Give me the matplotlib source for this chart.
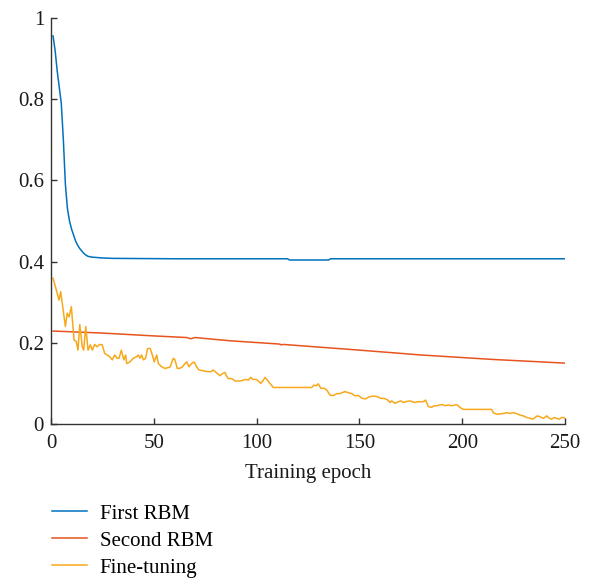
import matplotlib
matplotlib.use("Agg")
from matplotlib import pyplot as plt

# First RBM
rbm1_epoch = [1, 2, 3, 4, 5, 6, 7, 8, 9, 10, 11, 12, 13, 14, 15, 16, 17, 18, 20,
              25, 30, 60, 115, 116, 135, 136, 250]
rbm1_err = [0.956, 0.92, 0.87, 0.83, 0.79, 0.70, 0.59, 0.53, 0.50, 0.48, 0.465,
            0.45, 0.44, 0.432, 0.426, 0.42, 0.416, 0.413, 0.411,
            0.409, 0.408, 0.407, 0.407, 0.404, 0.404, 0.407, 0.407]

# Second RBM
rbm2_epoch = [1, 25, 50, 66, 68, 70, 87, 111, 112, 113, 150, 180, 215, 250]
rbm2_err = [0.229, 0.224, 0.217, 0.213, 0.210, 0.213, 0.205, 0.197, 0.195, 0.196,
            0.182, 0.170, 0.159, 0.150]

# Fine-tuning
ft_epoch = [1, 2.6, 3.9, 4.7, 7.0, 7.9, 8.8, 9.9, 11.2, 12.3, 13.1, 14.0, 15.2,
            15.9, 16.9, 18.0, 19.1, 20.1, 21.2, 22.4, 23.7, 24.9, 26.1, 28.5,
            29.8, 31.0, 32.1, 33.1, 34.2, 35.4, 36.3, 36.8, 38.4, 40.0, 41.7,
            42.5, 43.3, 44.1, 44.9, 46.0, 47.0, 48.2, 49.3, 50.2, 51.4, 52.2,
            53.8, 55.4, 57.9, 59.5, 60.3, 61.4, 62.7, 63.9, 65.2, 66.0, 67.1,
            68.4, 69.6, 70.9, 72.0, 74.1, 76.2, 77.8, 78.9, 80.6, 82.2, 83.3,
            84.6, 85.1, 86.2, 87.9, 89.5, 91.9, 93.5, 94.8, 96.0, 97.1, 98.1,
            99.7, 100.8, 102.0, 103.0, 104.1, 105.2, 106.5, 108.1, 114.6, 121.1,
            126.8, 127.9, 128.9, 130.0, 131.2, 132.8, 134.1, 135.7, 137.3, 139.0,
            140.6, 143.0, 144.6, 146.3, 147.5, 149.5, 151.4, 153.1, 154.7, 156.8,
            158.9, 160.5, 162.1, 163.8, 164.9, 165.7, 167.3, 168.9, 170.2, 171.4,
            172.5, 174.6, 176.7, 178.6, 181.1, 182.2, 183.5, 185.1, 186.4, 187.6,
            189.2, 190.5, 191.6, 193.2, 194.9, 196.5, 197.6, 198.9, 200.5, 203.0,
            208.7, 214.3, 215.1, 216.8, 218.4, 220.0, 221.6, 223.2, 224.9, 226.8,
            228.1, 229.7, 231.4, 233.0, 234.3, 235.4, 236.5, 237.8, 239.5, 241.1,
            242.4, 243.5, 244.7, 246.0, 247.2, 248.4, 249.5, 250]
ft_err = [0.359, 0.330, 0.305, 0.326, 0.240, 0.273, 0.264, 0.289, 0.207, 0.203,
          0.182, 0.245, 0.190, 0.182, 0.240, 0.182, 0.195, 0.182, 0.196, 0.190,
          0.196, 0.195, 0.174, 0.166, 0.158, 0.170, 0.162, 0.162, 0.182, 0.158,
          0.170, 0.149, 0.153, 0.162, 0.166, 0.170, 0.162, 0.170, 0.158, 0.162,
          0.186, 0.186, 0.170, 0.153, 0.170, 0.149, 0.141, 0.137, 0.140, 0.162,
          0.158, 0.137, 0.137, 0.141, 0.149, 0.153, 0.141, 0.149, 0.153, 0.140,
          0.133, 0.131, 0.129, 0.129, 0.133, 0.126, 0.119, 0.124, 0.127, 0.121,
          0.112, 0.112, 0.106, 0.106, 0.108, 0.110, 0.108, 0.115, 0.110, 0.110,
          0.106, 0.100, 0.106, 0.115, 0.108, 0.100, 0.090, 0.090, 0.090, 0.090,
          0.096, 0.094, 0.099, 0.088, 0.088, 0.084, 0.071, 0.070, 0.075, 0.075,
          0.080, 0.077, 0.075, 0.070, 0.070, 0.063, 0.062, 0.067, 0.069, 0.067,
          0.063, 0.063, 0.059, 0.053, 0.057, 0.051, 0.055, 0.057, 0.053, 0.055,
          0.057, 0.053, 0.055, 0.055, 0.059, 0.043, 0.041, 0.045, 0.045, 0.047,
          0.048, 0.045, 0.047, 0.045, 0.047, 0.047, 0.041, 0.036, 0.036, 0.036,
          0.036, 0.028, 0.024, 0.025, 0.026, 0.028, 0.026, 0.028, 0.025, 0.022,
          0.020, 0.016, 0.014, 0.012, 0.016, 0.020, 0.018, 0.014, 0.020, 0.014,
          0.012, 0.016, 0.014, 0.012, 0.016, 0.016, 0.014]

labels = ["First RBM", "Second RBM", "Fine-tuning"]
colors = ["#0072BD", "#E8541E", "#F7A81B"]

plt.rcParams["font.family"] = ["Liberation Serif", "DejaVu Serif"]

fig = plt.figure(figsize=(5.89, 5.81), dpi=100)
ax = fig.add_axes([0.0866, 0.2702, 0.8727, 0.6988])

ax.plot(rbm1_epoch, rbm1_err, color=colors[0], lw=1.1, label=labels[0])
ax.plot(rbm2_epoch, rbm2_err, color=colors[1], lw=1.1, label=labels[1])
ax.plot(ft_epoch, ft_err, color=colors[2], lw=1.1, label=labels[2])

ax.set_xlim(0, 250)
ax.set_ylim(0, 1)
ax.set_xticks([0, 50, 100, 150, 200, 250])
ax.set_yticks([0, 0.2, 0.4, 0.6, 0.8, 1])
ax.set_yticklabels(["0", "0.2", "0.4", "0.6", "0.8", "1"])
ax.spines["top"].set_visible(False)
ax.spines["right"].set_visible(False)
for s in ["left", "bottom"]:
    ax.spines[s].set_color("#333333")
    ax.spines[s].set_linewidth(1.0)
ax.tick_params(direction="in", length=4, width=1, colors="#333333",
               labelcolor="#1a1a1a", labelsize=15, pad=5)
ax.tick_params(axis="x", pad=7)
ax.set_xlabel("Training epoch", fontsize=15, color="#1a1a1a", labelpad=8)

fig.legend(loc="upper left", bbox_to_anchor=(0.074, 0.147), frameon=False,
           fontsize=15, handlelength=1.7, handletextpad=0.6, labelspacing=0.36,
           borderaxespad=0)

fig.savefig("out.png", dpi=100)
